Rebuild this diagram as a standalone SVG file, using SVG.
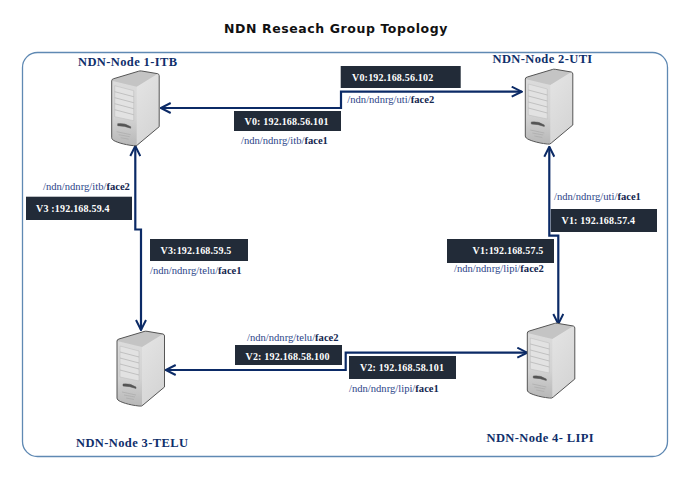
<svg xmlns="http://www.w3.org/2000/svg" width="690" height="494" viewBox="0 0 690 494">
<style>
.title{font:bold 12.5px "DejaVu Sans",sans-serif;fill:#111;letter-spacing:.58px}
.node{font:bold 12.5px "Liberation Serif",serif;fill:#0f2f6b;letter-spacing:.38px}
.box{fill:#222b38}
.ip{font:bold 10px "Liberation Serif",serif;fill:#fff;letter-spacing:.2px}
.path{font:10.6px "Liberation Serif",serif;fill:#2b4488}
.path tspan{font-weight:bold;fill:#14264f}
.link{fill:none;stroke:#0b2a66;stroke-width:2.2}
</style>
<defs>
<marker id="arrow" viewBox="0 0 12 12" refX="11" refY="6" markerUnits="userSpaceOnUse" markerWidth="12" markerHeight="12" orient="auto-start-reverse">
<path d="M1 1 L11 6 L1 11" fill="none" stroke="#0b2a66" stroke-width="2"/>
</marker>
<linearGradient id="front" x1="0" y1="0" x2="0" y2="1"><stop offset="0" stop-color="#dcdcdc"/><stop offset=".6" stop-color="#d2d2d2"/><stop offset="1" stop-color="#b8b8b8"/></linearGradient>
<linearGradient id="side" x1="0" y1="0" x2="1" y2="1"><stop offset="0" stop-color="#ececec"/><stop offset="1" stop-color="#d2d2d2"/></linearGradient>
<g id="server">
<path d="M0 10 Q0 8.500 2 8 L27 .5 Q28 0 30 .3 L46 3 Q47.500 3.500 47.500 5 L47.500 56 L26 74 Q25 75.500 22 75 C12 74 3 71 1 69 Q0 68 0 67 Z" fill="url(#side)"/>
<path d="M0 10 Q0 8.500 2 8 L25 16 L25 74.500 C12 74 3 71 1 69 Q0 68 0 67 Z" fill="url(#front)"/>
<path d="M0 10 Q0 8.500 2 8 L27 .5 Q28 0 30 .3 L46 3 L25 16 Z" fill="#c4c4c4"/>
<path d="M0 10 Q0 8.500 2 8 L27 .5 Q28 0 30 .3 L46 3 Q47.500 3.500 47.500 5 L47.500 56 L26 74 Q25 75.500 22 75 C12 74 3 71 1 69 Q0 68 0 67 Z" fill="none" stroke="#555" stroke-width="1"/>
<path d="M3 15 L22 20 L22 50 L3 46 Z" fill="#e2e2e2" stroke="#bbb" stroke-width=".5"/>
<path d="M3 21 L22 26 M3 27 L22 32 M3 33 L22 38 M3 39 L22 44" stroke="#aaa" stroke-width=".6"/>
<path d="M6 53 Q13 52 19 56 L19 57.500 Q13 55 6 55 Z" fill="#555" stroke="#555" stroke-width=".5"/>
<path d="M5 61 L19 64 M7 64 L18 66 M9 67 L17 68.500" stroke="#aaa" stroke-width=".7"/>
</g>
</defs>
<rect width="690" height="494" fill="#fff"/>
<text class="title" x="224" y="32.500">NDN Reseach Group Topology</text>
<rect x="22.500" y="52.500" width="645" height="404" rx="15" fill="none" stroke="#5f89b3" stroke-width="1.300"/>
<g id="connectors">
<path class="link" d="M160.700 108 H341 V91.700 H521.700" marker-start="url(#arrow)" marker-end="url(#arrow)"/>
<path class="link" d="M135.300 146 V229.500 H141 V330" marker-start="url(#arrow)" marker-end="url(#arrow)"/>
<path class="link" d="M549.300 146.700 V235.700 H558.300 V324" marker-start="url(#arrow)" marker-end="url(#arrow)"/>
<path class="link" d="M165.700 370 H345.700 V352.700 H527.300" marker-start="url(#arrow)" marker-end="url(#arrow)"/>
</g>
<g id="node-1"><use href="#server" x="111.700" y="70.700"/><text class="node" x="78" y="66">NDN-Node 1-ITB</text></g>
<g id="node-2"><use href="#server" x="525.300" y="69"/><text class="node" x="492.500" y="62.500">NDN-Node 2-UTI</text></g>
<g id="node-3"><use href="#server" x="117" y="331"/><text class="node" x="76" y="447">NDN-Node 3-TELU</text></g>
<g id="node-4"><use href="#server" x="527.300" y="323"/><text class="node" x="486.500" y="442">NDN-Node 4- LIPI</text></g>
<g id="labels">
<rect class="box" x="340.700" y="66" width="120" height="22"/><text class="ip" x="352" y="81">V0:192.168.56.102</text>
<text class="path" x="347.300" y="103">/ndn/ndnrg/uti/<tspan>face2</tspan></text>
<rect class="box" x="234" y="111" width="107" height="20"/><text class="ip" x="244.500" y="125">V0: 192.168.56.101</text>
<text class="path" x="241" y="144">/ndn/ndnrg/itb/<tspan>face1</tspan></text>
<text class="path" x="43" y="190">/ndn/ndnrg/itb/<tspan>face2</tspan></text>
<rect class="box" x="26" y="196.700" width="106" height="23.300"/><text class="ip" x="36" y="212">V3 :192.168.59.4</text>
<rect class="box" x="150" y="239" width="98" height="22"/><text class="ip" x="160.500" y="254">V3:192.168.59.5</text>
<text class="path" x="150" y="274">/ndn/ndnrg/telu/<tspan>face1</tspan></text>
<text class="path" x="554" y="200">/ndn/ndnrg/uti/<tspan>face1</tspan></text>
<rect class="box" x="550.700" y="209" width="106.300" height="23"/><text class="ip" x="561.500" y="224">V1: 192.168.57.4</text>
<rect class="box" x="447" y="239" width="107" height="24"/><text class="ip" x="472.500" y="254">V1:192.168.57.5</text>
<text class="path" x="454" y="271.500">/ndn/ndnrg/lipi/<tspan>face2</tspan></text>
<text class="path" x="247" y="341">/ndn/ndnrg/telu/<tspan>face2</tspan></text>
<rect class="box" x="235" y="345" width="107" height="20"/><text class="ip" x="245.500" y="359.500">V2: 192.168.58.100</text>
<rect class="box" x="349" y="356" width="107" height="23"/><text class="ip" x="360" y="371">V2: 192.168.58.101</text>
<text class="path" x="349" y="392">/ndn/ndnrg/lipi/<tspan>face1</tspan></text>
</g>
</svg>
